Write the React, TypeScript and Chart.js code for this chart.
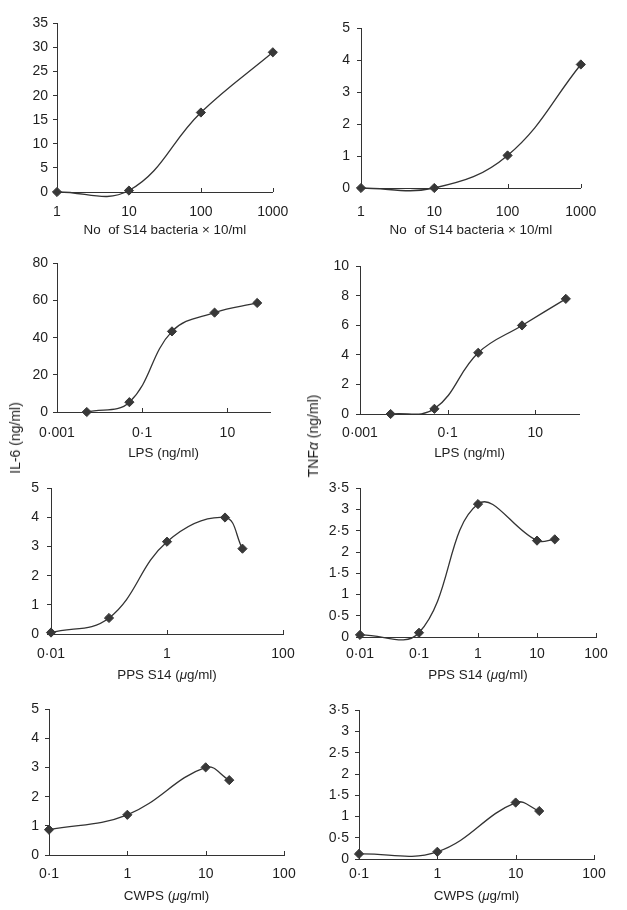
import React, { useEffect, useRef } from 'react';
import { Chart, registerables } from 'chart.js';

Chart.register(...registerables);

const FAMILY = '"Liberation Sans", Arial, Helvetica, sans-serif';
const TEXT = '#1e1e1e';
const LINE = '#333333';
const MARK = '#383838';
const TICK_SIZE = 14;
const TITLE_SIZE = 13.4;

// ---- doses (x values) ----
const bacteriaDoses = [1, 10, 100, 1000];
const lpsDoses = [0.005, 0.05, 0.5, 5, 50];
const ppsDoses = [0.01, 0.1, 1, 10, 20];
const cwpsDoses = [0.1, 1, 10, 20];

// ---- responses (y values) ----
const il6Bacteria = [0, 0.3, 16.5, 29];
const tnfBacteria = [0, 0, 1.02, 3.87];
const il6Lps = [0, 5.3, 43.4, 53.5, 58.7];
const tnfLps = [0, 0.35, 4.15, 6.0, 7.8];
const il6Pps = [0.05, 0.55, 3.17, 4.0, 2.93];
const tnfPps = [0.05, 0.1, 3.13, 2.27, 2.3];
const il6Cwps = [0.87, 1.38, 3.01, 2.57];
const tnfCwps = [0.12, 0.17, 1.33, 1.13];

// ---- x tick labels & inner tick marks ----
const bacteriaXTicks = [1, 10, 100, 1000];
const lpsXTicks = [0.001, 0.1, 10];
const ppsIl6XTicks = [0.01, 1, 100];
const ppsTnfXTicks = [0.01, 0.1, 1, 10, 100];
const cwpsXTicks = [0.1, 1, 10, 100];

const bacteriaXMarks = [10, 100, 1000];
const lpsXMarks = [0.1, 10];
const ppsIl6XMarks = [1, 100];
const ppsTnfXMarks = [0.1, 1, 10, 100];
const cwpsXMarks = [1, 10, 100];

// ---- y tick labels ----
const il6BacteriaYTicks = [0, 5, 10, 15, 20, 25, 30, 35];
const tnfBacteriaYTicks = [0, 1, 2, 3, 4, 5];
const il6LpsYTicks = [0, 20, 40, 60, 80];
const tnfLpsYTicks = [0, 2, 4, 6, 8, 10];
const il6PpsYTicks = [0, 1, 2, 3, 4, 5];
const tnfPpsYTicks = [0, 0.5, 1, 1.5, 2, 2.5, 3, 3.5];
const il6CwpsYTicks = [0, 1, 2, 3, 4, 5];
const tnfCwpsYTicks = [0, 0.5, 1, 1.5, 2, 2.5, 3, 3.5];

// ---- axis titles ----
const bacteriaTitle = [{ text: 'No  of S14 bacteria × 10/ml' }];
const lpsTitle = [{ text: 'LPS (ng/ml)' }];
const ppsTitle = [{ text: 'PPS S14 (' }, { text: 'μ', italic: true }, { text: 'g/ml)' }];
const cwpsTitle = [{ text: 'CWPS (' }, { text: 'μ', italic: true }, { text: 'g/ml)' }];

type Seg = { text: string; italic?: boolean };
type PanelCfg = {
  rect: [number, number, number, number];
  xMin: number;
  xMax: number;
  xTicks: number[];
  xMarks: number[];
  yTicks: number[];
  xs: number[];
  ys: number[];
  title: Seg[];
  labelY: number;
  titleY: number;
  yPad: number;
};

const YW = 48;
const PT = 12;
const PR = 26;
const XH = 56;

const panels: PanelCfg[] = [
  { rect: [57, 22, 274, 192], xMin: 1, xMax: 1000, xTicks: bacteriaXTicks, xMarks: bacteriaXMarks, yTicks: il6BacteriaYTicks, xs: bacteriaDoses, ys: il6Bacteria, title: bacteriaTitle, labelY: 212, titleY: 230, yPad: 5 },
  { rect: [361, 25, 586, 188], xMin: 1, xMax: 1000, xTicks: bacteriaXTicks, xMarks: bacteriaXMarks, yTicks: tnfBacteriaYTicks, xs: bacteriaDoses, ys: tnfBacteria, title: bacteriaTitle, labelY: 212, titleY: 230, yPad: 7 },
  { rect: [57, 262, 270, 412], xMin: 0.001, xMax: 100, xTicks: lpsXTicks, xMarks: lpsXMarks, yTicks: il6LpsYTicks, xs: lpsDoses, ys: il6Lps, title: lpsTitle, labelY: 433, titleY: 453, yPad: 5 },
  { rect: [360, 263, 579, 414], xMin: 0.001, xMax: 100, xTicks: lpsXTicks, xMarks: lpsXMarks, yTicks: tnfLpsYTicks, xs: lpsDoses, ys: tnfLps, title: lpsTitle, labelY: 433, titleY: 453, yPad: 7 },
  { rect: [51, 484, 283, 634], xMin: 0.01, xMax: 100, xTicks: ppsIl6XTicks, xMarks: ppsIl6XMarks, yTicks: il6PpsYTicks, xs: ppsDoses, ys: il6Pps, title: ppsTitle, labelY: 654, titleY: 675, yPad: 8 },
  { rect: [360, 485, 596, 637], xMin: 0.01, xMax: 100, xTicks: ppsTnfXTicks, xMarks: ppsTnfXMarks, yTicks: tnfPpsYTicks, xs: ppsDoses, ys: tnfPps, title: ppsTitle, labelY: 654, titleY: 675, yPad: 7 },
  { rect: [49, 707, 284, 855], xMin: 0.1, xMax: 100, xTicks: cwpsXTicks, xMarks: cwpsXMarks, yTicks: il6CwpsYTicks, xs: cwpsDoses, ys: il6Cwps, title: cwpsTitle, labelY: 874, titleY: 896, yPad: 6 },
  { rect: [359, 708, 594, 859], xMin: 0.1, xMax: 100, xTicks: cwpsXTicks, xMarks: cwpsXMarks, yTicks: tnfCwpsYTicks, xs: cwpsDoses, ys: tnfCwps, title: cwpsTitle, labelY: 874, titleY: 896, yPad: 6 },
];

const fmt = (v: number) => String(Number(v.toPrecision(6))).replace('.', '·');
const tickFont = { family: FAMILY, size: TICK_SIZE, lineHeight: 1.2 };

function Panel({ cfg }: { cfg: PanelCfg }) {
  const ref = useRef<HTMLCanvasElement | null>(null);
  const [L, T, R, B] = cfg.rect;
  const W = R - L + YW + PR;
  const H = B - T + PT + XH;
  const canvasTop = T - PT;

  useEffect(() => {
    if (!ref.current) return;
    const extras = {
      id: 'extras',
      afterDraw(chart: any) {
        const ctx = chart.ctx as CanvasRenderingContext2D;
        const xs = chart.scales.x;
        const area = chart.chartArea;
        ctx.save();
        ctx.strokeStyle = LINE;
        ctx.lineWidth = 1;
        cfg.xMarks.forEach((v) => {
          const px = Math.round(xs.getPixelForValue(v)) + 0.5;
          ctx.beginPath();
          ctx.moveTo(px, Math.round(area.bottom));
          ctx.lineTo(px, Math.round(area.bottom) - 4);
          ctx.stroke();
        });
        // x axis title with mixed italic
        ctx.fillStyle = TEXT;
        ctx.textBaseline = 'middle';
        ctx.textAlign = 'left';
        const fonts = cfg.title.map((s) => `${s.italic ? 'italic ' : ''}${TITLE_SIZE}px ${FAMILY}`);
        const widths = cfg.title.map((s, i) => {
          ctx.font = fonts[i];
          return ctx.measureText(s.text).width;
        });
        const total = widths.reduce((a, b) => a + b, 0);
        let x = (area.left + area.right) / 2 - total / 2;
        const y = cfg.titleY - canvasTop;
        cfg.title.forEach((s, i) => {
          ctx.font = fonts[i];
          ctx.fillText(s.text, x, y);
          x += widths[i];
        });
        ctx.restore();
      },
    };

    const xLabelPad = cfg.labelY - B - (TICK_SIZE * 1.2) / 2;

    const chart = new Chart(ref.current, {
      type: 'line',
      data: {
        datasets: [
          {
            data: cfg.xs.map((x, i) => ({ x, y: cfg.ys[i] })),
            borderColor: LINE,
            borderWidth: 1.3,
            tension: 0.4,
            fill: false,
            pointStyle: 'rectRot',
            pointRadius: 4.6,
            pointBackgroundColor: MARK,
            pointBorderColor: MARK,
            pointBorderWidth: 1,
            clip: false as any,
          },
        ],
      },
      options: {
        responsive: false,
        animation: false,
        events: [],
        layout: { padding: { top: PT, right: PR, left: 0, bottom: 0 } },
        elements: { line: { capBezierPoints: false } },
        plugins: { legend: { display: false }, tooltip: { enabled: false } },
        scales: {
          x: {
            type: 'logarithmic',
            min: cfg.xMin,
            max: cfg.xMax,
            afterFit: (s: any) => {
              s.height = XH;
            },
            afterBuildTicks: (s: any) => {
              s.ticks = cfg.xTicks.map((v) => ({ value: v }));
            },
            ticks: {
              autoSkip: false,
              maxRotation: 0,
              padding: xLabelPad,
              color: TEXT,
              font: tickFont,
              callback: (v: any) => fmt(Number(v)),
            },
            grid: { display: false, drawTicks: false },
            border: { display: true, color: LINE, width: 1 },
          },
          y: {
            type: 'linear',
            min: cfg.yTicks[0],
            max: cfg.yTicks[cfg.yTicks.length - 1],
            afterFit: (s: any) => {
              s.width = YW;
            },
            afterBuildTicks: (s: any) => {
              s.ticks = cfg.yTicks.map((v) => ({ value: v }));
            },
            ticks: {
              padding: cfg.yPad,
              color: TEXT,
              font: tickFont,
              callback: (v: any) => fmt(Number(v)),
            },
            grid: { display: true, drawOnChartArea: false, drawTicks: true, tickLength: 4, color: LINE, lineWidth: 1 },
            border: { display: true, color: LINE, width: 1 },
          },
        },
      } as any,
      plugins: [extras],
    });
    return () => chart.destroy();
  }, [cfg]);

  return (
    <canvas
      ref={ref}
      width={W}
      height={H}
      style={{ position: 'absolute', left: L - YW, top: canvasTop, width: W, height: H, display: 'block' }}
    />
  );
}

const yTitleStyle = (x: number, y: number): React.CSSProperties => ({
  position: 'absolute',
  left: x,
  top: y,
  transform: 'translate(-50%, -50%) rotate(-90deg)',
  whiteSpace: 'nowrap',
  fontFamily: FAMILY,
  fontSize: 14,
  color: TEXT,
  lineHeight: 1,
});

export default function App() {
  return (
    <div style={{ position: 'absolute', left: 0, top: 0, width: 627, height: 910, background: '#ffffff', overflow: 'hidden' }}>
      {panels.map((p, i) => (
        <Panel key={i} cfg={p} />
      ))}
      <div style={yTitleStyle(15, 438)}>IL-6 (ng/ml)</div>
      <div style={yTitleStyle(313, 436)}>
        TNF<i>α</i> (ng/ml)
      </div>
    </div>
  );
}
